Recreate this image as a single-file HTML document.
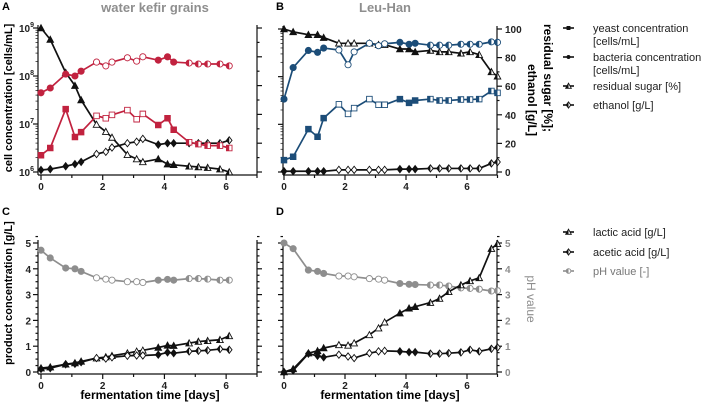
<!DOCTYPE html>
<html><head><meta charset="utf-8">
<style>
body{margin:0;background:#fff;}
svg{display:block;font-family:"Liberation Sans",Arial,sans-serif;}
.tk{font-size:10px;font-weight:bold;fill:#222;}
.lg{font-size:11px;fill:#222;}
.rot{position:absolute;white-space:nowrap;text-align:center;}
</style></head>
<body>
<svg id="chart" width="708" height="410" viewBox="0 0 708 410"></svg>
<script>
// ---------- data ----------
const timeA=[0,0.3,0.8,1.1,1.3,1.8,2.1,2.3,2.8,3.1,3.3,3.8,4.1,4.3,4.8,5.1,5.4,5.8,6.1];
const timeB=[0,0.3,0.8,1.1,1.3,1.8,2.1,2.3,2.8,3.1,3.3,3.8,4.1,4.3,4.8,5.1,5.4,5.8,6.1,6.4,6.8,7.0];
// panel A (log10 cells/mL ; sugar % ; ethanol g/L)
const yeastA=[6.35,6.5,7.31,6.73,6.83,7.17,7.12,7.19,7.29,7.10,7.21,6.98,7.12,6.88,6.62,6.58,6.55,6.55,6.5];
const bacteriaA=[7.65,7.75,8.04,8.0,8.1,8.29,8.21,8.29,8.38,8.31,8.40,8.33,8.40,8.29,8.27,8.25,8.25,8.25,8.21];
const sugarA=[100,92,69,60,50,33,28,24,12,9,7,9,5.5,5,4,3.5,3,2,0];
const ethanolA=[1.4,2,4,5.5,7,12.5,14,17,20,21,23,19,20,20,20,20,20,20,22];
// panel B
const yeastB=[6.25,6.32,6.9,6.74,7.13,7.42,7.22,7.34,7.53,7.41,7.41,7.53,7.45,7.5,7.53,7.5,7.5,7.52,7.52,7.53,7.7,7.66];
const bacteriaB=[7.53,8.19,8.55,8.51,8.6,8.56,8.25,8.52,8.7,8.65,8.69,8.72,8.68,8.7,8.66,8.66,8.66,8.68,8.68,8.68,8.73,8.72];
const sugarB=[100,98,96,96,94,90,90,90,90,89,89,86,86,84,85,84,84,83,84,82,70,67];
const ethanolB=[0.5,0.5,0.5,0.5,0.5,1.5,1.5,1.5,1.5,1.5,1.5,2,2,2,2.5,2.5,2.5,2.5,2.5,2.5,6,7];
// panel C
const lacticC=[0.15,0.19,0.3,0.35,0.41,0.54,0.58,0.63,0.73,0.8,0.84,0.95,1.03,1.02,1.12,1.18,1.21,1.25,1.4];
const aceticC=[0.12,0.15,0.3,0.32,0.38,0.54,0.52,0.57,0.63,0.64,0.64,0.67,0.76,0.73,0.8,0.82,0.84,0.89,0.86];
const phC=[4.72,4.42,4.03,4.0,3.9,3.65,3.6,3.56,3.5,3.5,3.47,3.56,3.59,3.56,3.62,3.62,3.6,3.56,3.56];
// panel D
const lacticD=[0,0.12,0.73,0.82,0.93,1.05,1.03,1.12,1.44,1.7,1.93,2.28,2.47,2.53,2.69,2.85,3.11,3.37,3.53,3.65,4.78,4.97];
const aceticD=[0,0.06,0.71,0.63,0.57,0.67,0.6,0.54,0.73,0.8,0.82,0.8,0.77,0.77,0.71,0.71,0.73,0.76,0.86,0.8,0.9,0.95];
const phD=[5.0,4.78,3.95,3.9,3.82,3.72,3.72,3.69,3.62,3.6,3.56,3.43,3.4,3.39,3.37,3.37,3.33,3.26,3.24,3.21,3.14,3.15];
const xTicks=[0,2,4,6];
const logTicks=[6,7,8,9];
const pctTicks=[0,20,40,60,80,100];
const gTicks=[0,1,2,3,4,5];

const RED='#c1223f', BLUE='#1c4d78', GRAY='#8e8e8e', BLK='#111';
const NS='http://www.w3.org/2000/svg';
const svg=document.getElementById('chart');
let clipN=0;
function el(tag,attrs,parent){const e=document.createElementNS(NS,tag);for(const k in attrs)e.setAttribute(k,attrs[k]);(parent||svg).appendChild(e);return e;}
function txt(s,attrs,parent){const t=el('text',attrs,parent);t.textContent=s;return t;}

const A={x0:41,x7:257,top:28,bot:172,axL:38,axR:257,axB:175};
const B={x0:284,x7:497.5,top:29,bot:172,axL:283,axR:497,axB:175};
const C={x0:41,x7:257,top:243,bot:372,axL:38,axR:257,axB:374};
const D={x0:284,x7:497.5,top:243,bot:372,axL:283,axR:497,axB:374};
function sx(P,v){return P.x0+(P.x7-P.x0)*v/7;}
function sLog(P,v){return P.bot-(P.bot-P.top)*(v-6)/3;}
function sPct(P,v){return P.bot-(P.bot-P.top)*v/100;}
function sG(P,v){return P.bot-(P.bot-P.top)*v/5;}

function mode(x){if(x<1.6)return 'fill';if(x<3.5)return 'open';if(x<4.5)return 'fill';return 'half';}
function shapePath(shape,cx,cy,r){
  if(shape==='square')return `M${cx-r},${cy-r}h${2*r}v${2*r}h${-2*r}z`;
  if(shape==='triangle')return `M${cx},${cy-r-0.5}L${cx+r+0.5},${cy+r}L${cx-r-0.5},${cy+r}z`;
  if(shape==='diamond')return `M${cx},${cy-r-0.8}L${cx+r},${cy}L${cx},${cy+r+0.8}L${cx-r},${cy}z`;
  return `M${cx-r},${cy}a${r},${r} 0 1,0 ${2*r},0a${r},${r} 0 1,0 ${-2*r},0z`;
}
function marker(g,shape,cx,cy,color,m,name,rr){
  const r=rr||(shape==='circle'?3.1:2.8);
  const d=shapePath(shape,cx,cy,r);
  const p=el('path',{d:d,fill:m==='fill'?color:'#fff',stroke:color,'stroke-width':0.9},g);
  
  
  if(m==='half'){
    const id='hc'+(clipN++);
    const cp=el('clipPath',{id:id},g);
    el('rect',{x:cx-r-2,y:cy-r-2,width:r+2,height:2*r+4},cp);
    const h=el('path',{d:d,fill:color,'clip-path':`url(#${id})`},g);
    
    
  }
}
function series(P,xs,ys,yfn,color,shape,name){
  const g=el('g',{});
  
  
  const pts=xs.map((x,i)=>[sx(P,x),yfn(P,ys[i])]);
  el('polyline',{points:pts.map(p=>p.join(',')).join(' '),fill:'none',stroke:color,'stroke-width':1.7,'stroke-linejoin':'round'},g);
  pts.forEach((p,i)=>marker(g,shape,p[0],p[1],color,mode(xs[i]),name));
}

function axes(P,leftType,rightType,leftLabels,rightLabels,name){
  const g=el('g',{});
  
  
  const st={stroke:'#111','stroke-width':1.2};
  el('line',Object.assign({x1:P.axL,y1:P.axB,x2:P.axR,y2:P.axB},st),g);
  el('line',Object.assign({x1:P.axL,y1:P.top-3,x2:P.axL,y2:P.axB},st),g);
  el('line',Object.assign({x1:P.axR,y1:P.top-3,x2:P.axR,y2:P.axB},st),g);
  for(let d=0;d<=7;d++){el('line',Object.assign({x1:sx(P,d),y1:P.axB,x2:sx(P,d),y2:P.axB+(d%2?3:5)},st),g);}
  xTicks.forEach(t=>txt(String(t),{x:sx(P,t),y:P.axB+15,'text-anchor':'middle',class:'tk'},g));
  function yside(type,x,dir,labels){
    if(type==='log'){
      logTicks.forEach(t=>{const y=sLog(P,t);el('line',Object.assign({x1:x,y1:y,x2:x+dir*5,y2:y},st),g);
        if(labels){const tt=txt('10',{x:x-4,y:y+4,'text-anchor':'end',class:'tk'},g);const s=el('tspan',{dy:-5,'font-size':7},tt);s.textContent=String(t);}});
      for(let d=6;d<9;d++)for(let k=2;k<10;k++){const y=sLog(P,d+Math.log10(k));el('line',{x1:x,y1:y,x2:x+dir*2.5,y2:y,stroke:'#111','stroke-width':0.7},g);}
    }else if(type==='pct'){
      for(let v=0;v<=100;v+=10){const y=sPct(P,v);el('line',Object.assign({x1:x,y1:y,x2:x+dir*(v%20?2.5:5),y2:y},st),g);}
      if(labels)pctTicks.forEach(t=>txt(String(t),{x:x+8,y:sPct(P,t)+4,class:'tk'},g));
    }else{
      for(let v=0;v<=5.4;v+=0.25){const y=sG(P,v);const maj=Math.abs(v-Math.round(v))<0.01;el('line',Object.assign({x1:x,y1:y,x2:x+dir*(maj?5:2.5),y2:y},st),g);}
      if(labels)gTicks.forEach(t=>{
        if(dir<0)txt(String(t),{x:x-7,y:sG(P,t)+4,'text-anchor':'end',class:'tk'},g);
        else txt(String(t),{x:x+8,y:sG(P,t)+4,class:'tk',style:labels==='gray'?'fill:#8e8e8e':''},g);
      });
    }
  }
  yside(leftType,P.axL,-1,leftLabels);
  yside(rightType,P.axR,1,rightLabels);
}

axes(A,'log','pct',true,false,'panel-a');
axes(B,'log','pct',false,true,'panel-b');
axes(C,'g','g',true,false,'panel-c');
axes(D,'g','g',false,'gray','panel-d');

series(A,timeA,sugarA,sPct,BLK,'triangle','sugar-a');
series(A,timeA,ethanolA,sPct,BLK,'diamond','ethanol-a');
series(A,timeA,yeastA,sLog,RED,'square','yeast-a');
series(A,timeA,bacteriaA,sLog,RED,'circle','bacteria-a');
series(B,timeB,sugarB,sPct,BLK,'triangle','sugar-b');
series(B,timeB,ethanolB,sPct,BLK,'diamond','ethanol-b');
series(B,timeB,yeastB,sLog,BLUE,'square','yeast-b');
series(B,timeB,bacteriaB,sLog,BLUE,'circle','bacteria-b');
series(C,timeA,phC,sG,GRAY,'circle','ph-c');
series(C,timeA,lacticC,sG,BLK,'triangle','lactic-c');
series(C,timeA,aceticC,sG,BLK,'diamond','acetic-c');
series(D,timeB,phD,sG,GRAY,'circle','ph-d');
series(D,timeB,lacticD,sG,BLK,'triangle','lactic-d');
series(D,timeB,aceticD,sG,BLK,'diamond','acetic-d');

function legendItem(y,shape,color,lines,name){
  const g=el('g',{});
  
  
  el('line',{x1:563,y1:y,x2:574,y2:y,stroke:color,'stroke-width':1.6},g);
  const small=(shape==='square'||shape==='circle')&&color===BLK;
  marker(g,shape,568.5,y,color,small?'fill':'half',name,small?1.5:2.3);
  lines.forEach((l,i)=>txt(l,{x:593,y:y+4+i*13,class:'lg',style:color===GRAY?'fill:#777':''},g));
}
legendItem(28,'square',BLK,['yeast concentration','[cells/mL]'],'legend-yeast');
legendItem(57,'circle',BLK,['bacteria concentration','[cells/mL]'],'legend-bacteria');
legendItem(86,'triangle',BLK,['residual sugar [%]'],'legend-sugar');
legendItem(105,'diamond',BLK,['ethanol [g/L]'],'legend-ethanol');
legendItem(232,'triangle',BLK,['lactic acid [g/L]'],'legend-lactic');
legendItem(252,'diamond',BLK,['acetic acid [g/L]'],'legend-acetic');
legendItem(271,'circle',GRAY,['pH value [-]'],'legend-ph');
</script>
<div style="position:absolute;left:0;top:0;width:708px;height:410px;pointer-events:none;font-family:'Liberation Sans',Arial,sans-serif;">
<div style="position:absolute;left:2px;top:1px;font-size:11px;font-weight:bold;">A</div>
<div style="position:absolute;left:276px;top:1px;font-size:11px;font-weight:bold;">B</div>
<div style="position:absolute;left:2px;top:206px;font-size:11px;font-weight:bold;">C</div>
<div style="position:absolute;left:276px;top:206px;font-size:11px;font-weight:bold;">D</div>
<div style="position:absolute;left:80px;top:0px;width:150px;text-align:center;font-size:13px;font-weight:bold;color:#8e8e8e;">water kefir grains</div>
<div style="position:absolute;left:340px;top:0px;width:90px;text-align:center;font-size:13px;font-weight:bold;color:#8e8e8e;">Leu-Han</div>
<div class="rot" style="left:-101px;top:92px;width:220px;font-size:11px;font-weight:bold;transform:rotate(-90deg);">cell concentration [cells/mL]</div>
<div class="rot" style="left:-101px;top:287px;width:220px;font-size:11px;font-weight:bold;transform:rotate(-90deg);">product concentration [g/L]</div>
<div class="rot" style="left:488px;top:71px;width:120px;font-size:12px;font-weight:bold;transform:rotate(90deg);">residual sugar [%];</div>
<div class="rot" style="left:482px;top:93px;width:100px;font-size:12px;font-weight:bold;transform:rotate(90deg);">ethanol [g/L]</div>
<div class="rot" style="left:496px;top:292px;width:70px;font-size:12px;color:#8e8e8e;transform:rotate(90deg);">pH value</div>
<div style="position:absolute;left:50px;top:388px;width:200px;text-align:center;font-size:12px;font-weight:bold;">fermentation time [days]</div>
<div style="position:absolute;left:290px;top:388px;width:200px;text-align:center;font-size:12px;font-weight:bold;">fermentation time [days]</div>
</div>
</body></html>
